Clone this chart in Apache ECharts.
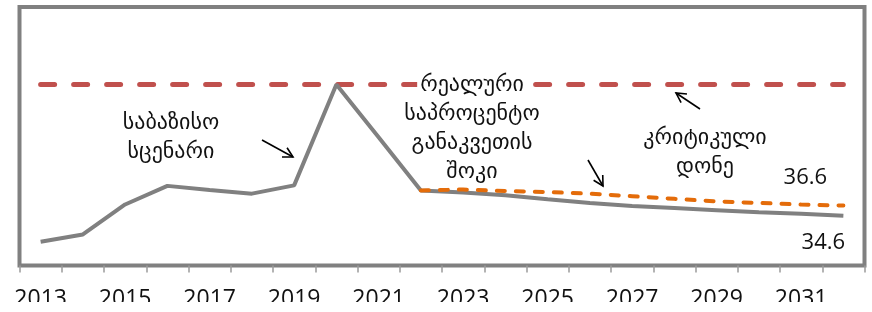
<!DOCTYPE html>
<html>
<head>
<meta charset="utf-8">
<script src="https://cdn.jsdelivr.net/npm/echarts@6/dist/echarts.min.js"></script>
<style>
  html, body { margin: 0; padding: 0; background: #fff; }
  #chart { width: 872px; height: 312px; }
</style>
</head>
<body>
<div id="chart"></div>
<script>
// წლები
const years = ['2013', '2014', '2015', '2016', '2017', '2018', '2019', '2020', '2021', '2022',
  '2023', '2024', '2025', '2026', '2027', '2028', '2029', '2030', '2031', '2032'];
// საბაზისო სცენარი
const baseline = [29.6, 31.0, 36.8, 40.4, 39.6, 38.9, 40.5, 60.0, 49.8, 39.5,
  39.1, 38.6, 37.8, 37.1, 36.5, 36.1, 35.7, 35.3, 35.0, 34.6];
// საპროცენტო შოკი
const shock = [null, null, null, null, null, null, null, null, null, 39.5,
  39.7, 39.4, 39.2, 38.9, 38.4, 37.9, 37.4, 37.1, 36.8, 36.6];
// კრიტიკული დონე
const critical = [60, 60, 60, 60, 60, 60, 60, 60, 60, 60,
  60, 60, 60, 60, 60, 60, 60, 60, 60, 60];

const chart = echarts.init(document.getElementById('chart'));
const geoFont = '22px "DejaVu Sans", "Noto Sans", sans-serif';
const numFont = '"Open Sans", sans-serif';
const last = years.length - 1;

// simple open arrow for annotations
const arrow = (x1, y1, x2, y2) => {
  const a = Math.atan2(y2 - y1, x2 - x1);
  const L = 11, s = 0.5;
  const line = (p) => ({
    type: 'polyline',
    z: 100,
    shape: { points: p },
    style: { stroke: '#000', lineWidth: 1.6, fill: null },
  });
  return [
    line([[x1, y1], [x2, y2]]),
    line([
      [x2 - L * Math.cos(a - s), y2 - L * Math.sin(a - s)],
      [x2, y2],
      [x2 - L * Math.cos(a + s), y2 - L * Math.sin(a + s)],
    ]),
  ];
};

const txt = (text, x, y) => ({
  type: 'text',
  z: 100,
  style: {
    text: text,
    x: x,
    y: y,
    align: 'center',
    verticalAlign: 'middle',
    font: geoFont,
    lineHeight: 29,
    fill: '#111',
    rich: {
      w: { font: geoFont, lineHeight: 29, fill: '#111', backgroundColor: '#fff', padding: [0, 3] },
    },
  },
});

const option = {
  animation: false,
  grid: {
    show: true,
    left: 19.5,
    right: 7.5,
    top: 7,
    bottom: 46.5,
    borderColor: '#808080',
    borderWidth: 4,
    backgroundColor: '#fff',
  },
  xAxis: {
    type: 'category',
    data: years,
    boundaryGap: true,
    axisLine: { show: false },
    axisTick: {
      show: true,
      interval: 0,
      length: 7,
      lineStyle: { color: '#9a9a9a', width: 1.5 },
    },
    axisLabel: {
      interval: 1,
      margin: 22,
      fontSize: 23,
      fontFamily: numFont,
      color: '#111',
    },
    splitLine: { show: false },
  },
  yAxis: {
    type: 'value',
    min: 25,
    max: 75,
    show: false,
    splitLine: { show: false },
  },
  series: [
    {
      name: 'კრიტიკული დონე',
      type: 'line',
      data: critical,
      symbol: 'none',
      lineStyle: { color: '#c0504d', width: 5, type: [14, 19], cap: 'round' },
      z: 1,
    },
    {
      name: 'საბაზისო სცენარი',
      type: 'line',
      data: baseline,
      symbol: 'none',
      lineStyle: { color: '#808080', width: 4 },
      z: 2,
      markPoint: {
        symbol: 'circle',
        symbolSize: 1,
        itemStyle: { color: 'transparent' },
        label: {
          show: true,
          position: 'inside',
          offset: [-20, 27],
          fontSize: 22,
          fontFamily: numFont,
          color: '#111',
          formatter: '{c}',
        },
        data: [{ coord: [years[last], baseline[last]], value: baseline[last] }],
      },
    },
    {
      name: 'საპროცენტო შოკი',
      type: 'line',
      data: shock,
      symbol: 'none',
      lineStyle: { color: '#e46c0a', width: 4, type: [8, 11], cap: 'round' },
      z: 3,
      markPoint: {
        symbol: 'circle',
        symbolSize: 1,
        itemStyle: { color: 'transparent' },
        label: {
          show: true,
          position: 'inside',
          offset: [-38, -28],
          fontSize: 22,
          fontFamily: numFont,
          color: '#111',
          formatter: '{c}',
        },
        data: [{ coord: [years[last], shock[last]], value: shock[last] }],
      },
    },
  ],
  graphic: [
    txt('საბაზისო\nსცენარი', 171, 138),
    txt('{w|რეალური}\nსაპროცენტო\nგანაკვეთის\nშოკი', 472, 128.5),
    txt('კრიტიკული\nდონე', 705, 152.5),
    ...arrow(262, 140, 293, 157),
    ...arrow(588, 160, 603, 186),
    ...arrow(700, 109, 676, 93),
    // the original picture is cut just under the top of the year labels
    {
      type: 'rect',
      z: 200,
      shape: { x: 0, y: 302, width: 872, height: 10 },
      style: { fill: '#fff' },
    },
  ],
};

chart.setOption(option);
</script>
</body>
</html>
